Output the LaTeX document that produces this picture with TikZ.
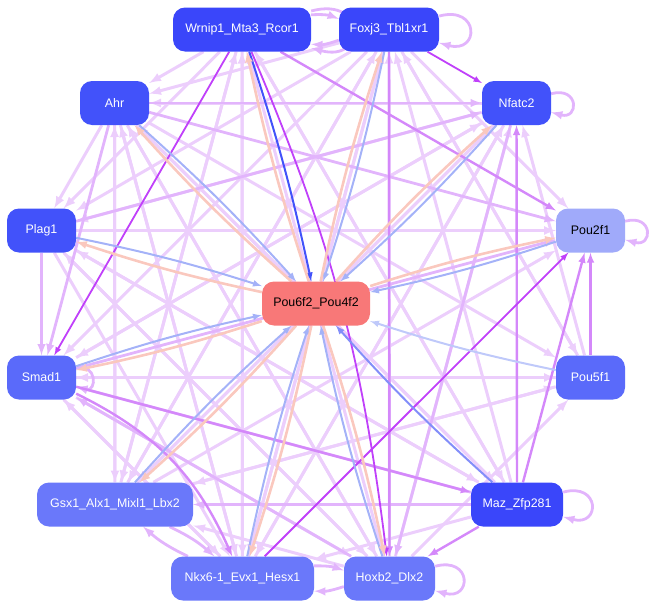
\documentclass[tikz,border=0pt]{standalone}
\usepackage{fontspec}
\setmainfont{Liberation Sans}
\usepackage{tikz}
\tikzset{>=latex}
\pgfdeclarelayer{back}
\pgfsetlayers{back,main}
\definecolor{tfdeep}{RGB}{58,70,250}
\definecolor{tfmid}{RGB}{66,82,250}
\definecolor{tflow}{RGB}{90,106,250}
\definecolor{tfpale}{RGB}{106,120,250}
\definecolor{tfghost}{RGB}{160,170,250}
\definecolor{hubred}{RGB}{248,120,120}
\definecolor{edgeA}{RGB}{236,206,252}
\definecolor{edgeB}{RGB}{226,180,252}
\definecolor{edgeC}{RGB}{212,136,250}
\definecolor{edgeD}{RGB}{192,64,250}
\definecolor{inblue}{RGB}{164,178,248}
\definecolor{outpink}{RGB}{250,200,190}

\begin{document}
\begin{tikzpicture}[x=1pt,y=-1pt,
  tfnode/.style={rectangle,rounded corners=12pt,minimum height=44pt,minimum width=69pt,inner sep=2pt,text=white,font=\fontsize{12.4}{14}\selectfont},
  lite/.style={->,draw=edgeA,line width=3pt},
  soft/.style={->,draw=edgeB,line width=2.8pt},
  firm/.style={->,draw=edgeC,line width=2.4pt},
  hard/.style={->,draw=edgeD,line width=1.8pt},
  selfloop/.style={soft,loop right,looseness=4,min distance=4pt},
  tohub/.style={->,draw=inblue,line width=2pt,bend left=3},
  fromhub/.style={->,draw=outpink,line width=2.6pt,bend left=3}]

	\useasboundingbox (0,0) rectangle (656,608);

	    \node[tfnode,fill=tfdeep,minimum width=138pt] (W) at (242,29.5) {Wrnip1\_Mta3\_Rcor1};
	    \node[tfnode,fill=tfdeep,minimum width=100pt] (F) at (389,29.5) {Foxj3\_Tbl1xr1};
	    \node[tfnode,fill=tfmid] (A) at (114.5,103) {Ahr};
	    \node[tfnode,fill=tfmid] (N) at (516.5,103) {Nfatc2};
	    \node[tfnode,fill=tfmid] (P) at (41.5,230.5) {Plag1};
	    \node[tfnode,fill=tfghost,text=black] (Q) at (590.5,230.5) {Pou2f1};
	    \node[tfnode,fill=hubred,text=black,minimum width=108pt] (C) at (316,303.5) {Pou6f2\_Pou4f2};
	    \node[tfnode,fill=tflow] (S) at (41.5,377.5) {Smad1};
	    \node[tfnode,fill=tflow] (R) at (590.5,377.5) {Pou5f1};
	    \node[tfnode,fill=tfpale,minimum width=156pt] (G) at (115,504.5) {Gsx1\_Alx1\_Mixl1\_Lbx2};
	    \node[tfnode,fill=tfdeep,minimum width=92pt] (M) at (517,504.5) {Maz\_Zfp281};
	    \node[tfnode,fill=tfpale,minimum width=143pt] (K) at (242.5,578.5) {Nkx6-1\_Evx1\_Hesx1};
	    \node[tfnode,fill=tfpale,minimum width=91pt] (H) at (389.5,578.5) {Hoxb2\_Dlx2};

	\begin{pgfonlayer}{back}
		% outer web, palest first
		\path (A) edge[lite] (P) edge[lite] (G) edge[lite] (K) edge[lite] (H) edge[lite] (M) edge[lite] (R)
		(W) edge[lite] (A) edge[lite] (P) edge[lite] (G) edge[lite] (K) edge[lite] (M)
		(F) edge[lite] (A) edge[lite] (P) edge[lite] (S) edge[lite] (G) edge[lite] (K) edge[lite] (R) edge[lite] (Q)
		(N) edge[lite] (A) edge[lite] (P) edge[lite] (S) edge[lite] (G) edge[lite] (K)
		(P) edge[lite] (H) edge[lite] (K) edge[lite] (M) edge[lite] (Q)
		(S) edge[lite] (K) edge[lite] (H) edge[lite] (N) edge[lite] (R)
		(G) edge[lite] (N) edge[lite] (Q) edge[lite] (R) edge[lite] (F) edge[lite] (W) edge[lite] (A)
		(K) edge[lite] (N) edge[lite] (F) edge[lite] (W) edge[lite] (A) edge[lite] (S)
		(H) edge[lite] (N) edge[lite] (F) edge[lite] (W) edge[lite] (A) edge[lite] (P) edge[lite] (G) edge[lite] (R)
		(M) edge[lite] (P) edge[lite] (A) edge[lite] (F) edge[lite] (W) edge[lite] (K)
		(R) edge[lite] (G) edge[lite] (S) edge[lite] (F) edge[lite] (N);

		\path (A) edge[soft] (N) edge[soft] (S) edge[soft] (Q)
		(M) edge[soft] (G) edge[soft] (S)
		(P) edge[soft] (S) edge[soft] (N)
		(W) edge[soft, bend left=12] (F) (F) edge[soft, bend left=12] (W)
		(K) edge[soft, bend left=10] (H) (H) edge[soft, bend left=10] (K)
		(G) edge[soft, bend left=8] (K) (K) edge[soft, bend left=8] (G)
		(N) edge[soft] (H) (S) edge[soft] (Q) (H) edge[soft] (S)
		(W) edge[selfloop] (W) (F) edge[selfloop] (F)
		(N) edge[selfloop] (N) (Q) edge[selfloop] (Q)
		(S) edge[selfloop, looseness=3] (S)
		(M) edge[selfloop] (M) (H) edge[selfloop] (H);

		\path (S) edge[firm] (M) (M) edge[firm] (Q) (R) edge[firm] (Q)
		(M) edge[firm] (H) (W) edge[firm] (Q) (M) edge[firm] (N)
		(F) edge[firm] (H) (S) edge[firm, bend left=20] (K);

		\path (F) edge[hard] (N) (K) edge[hard] (Q) (W) edge[hard] (S)
		(W) edge[hard, bend left=8] (H);

		% hub in and out
		\path (W) edge[tohub, draw=tfmid] (C) (F) edge[tohub] (C) (A) edge[tohub] (C)
		(N) edge[tohub] (C) (P) edge[tohub] (C) (Q) edge[tohub] (C)
		(S) edge[tohub] (C) (G) edge[tohub] (C) (K) edge[tohub] (C)
		(H) edge[tohub] (C) (M) edge[tohub, draw=inblue!80!blue] (C) (R) edge[tohub, draw=inblue!70] (C);

		\path (C) edge[fromhub] (W) edge[fromhub] (F) edge[fromhub] (A) edge[fromhub] (N)
		edge[fromhub] (P) edge[fromhub] (Q) edge[fromhub] (S) edge[fromhub] (G)
		edge[fromhub] (K) edge[fromhub] (H)
		(C) edge[fromhub, loop right, looseness=4, min distance=4pt] (C);
	\end{pgfonlayer}
	\end{tikzpicture}
\end{document}
